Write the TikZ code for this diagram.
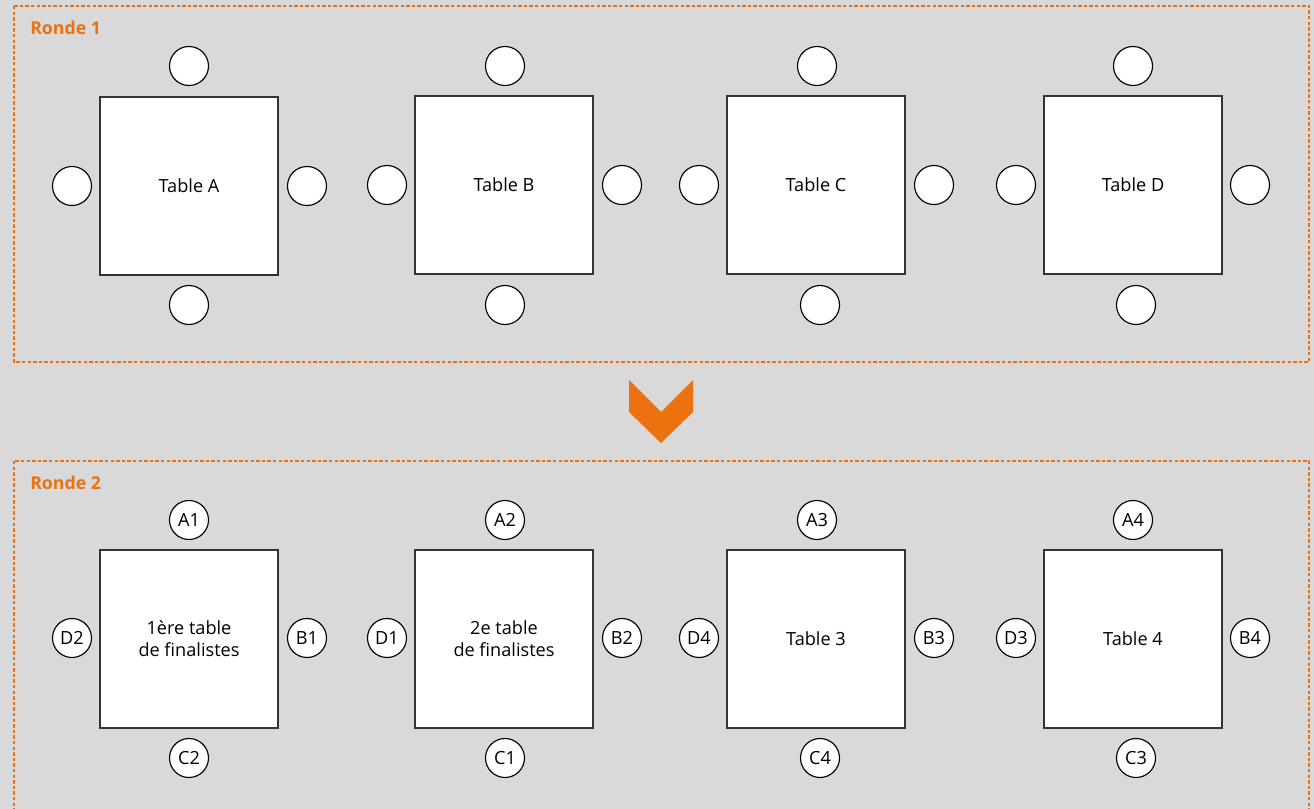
\documentclass[tikz,border=0pt]{standalone}
\usepackage{fontspec}
\setmainfont{Open Sans}
\definecolor{bg}{HTML}{D9D9D9}
\definecolor{org}{HTML}{EC7210}
\definecolor{edge}{HTML}{333333}
\tikzset{
  tablebox/.style={draw=edge, line width=0.85pt, fill=white, minimum width=178*0.75pt, minimum height=178*0.75pt, inner sep=0pt, align=center, font=\fontsize{13.6}{16.5}\selectfont},
  seat/.style={circle, draw=black, line width=0.85pt, fill=white, minimum size=39*0.75pt, inner sep=0pt, font=\fontsize{13.6}{16.5}\selectfont},
  roundframe/.style={draw=org, line width=1.2pt, dash pattern=on 2.6pt off 1.6pt},
  roundtitle/.style={text=org, font=\bfseries\fontsize{13.3}{16}\selectfont, anchor=base west, inner sep=0pt}
}
\begin{document}
\begin{tikzpicture}[x=0.75pt, y=-0.75pt]
\fill[bg] (0,0) rectangle (1314,809);
\useasboundingbox (0,0) rectangle (1314,809);
\begin{scope}
\clip (0,0) rectangle (1314,809);
% frames
\draw[roundframe] (14,6) rectangle (1309,362);
\draw[roundframe] (14,461) rectangle (1309,840);
\end{scope}
\node[roundtitle] (r1) at (30,35) {Ronde 1};
\node[roundtitle] (r2) at (30,489) {Ronde 2};
% chevron
\fill[org] (629,380) -- (661,412) -- (693,380) -- (693,412) -- (661,443) -- (629,412) -- cycle;
% round 1 tables
\node[tablebox] (tA) at (189,186) {Table A};
\node[tablebox] (tB) at (504,185) {Table B};
\node[tablebox] (tC) at (816,185) {Table C};
\node[tablebox] (tD) at (1133,185) {Table D};
% round 1 seats
\node[seat] (sAt) at (189,66) {};
\node[seat] (sAl) at (72,186) {};
\node[seat] (sAr) at (307,186) {};
\node[seat] (sAb) at (189,305) {};
\node[seat] (sBt) at (505,66) {};
\node[seat] (sBl) at (387,185) {};
\node[seat] (sBr) at (622,185) {};
\node[seat] (sBb) at (505,305) {};
\node[seat] (sCt) at (817,66) {};
\node[seat] (sCl) at (699,185) {};
\node[seat] (sCr) at (934,185) {};
\node[seat] (sCb) at (820,305) {};
\node[seat] (sDt) at (1133,66) {};
\node[seat] (sDl) at (1016,185) {};
\node[seat] (sDr) at (1250,185) {};
\node[seat] (sDb) at (1136,305) {};
% round 2 tables
\node[tablebox] (t1) at (189,639) {1ère table\\de finalistes};
\node[tablebox] (t2) at (504,639) {2e table\\de finalistes};
\node[tablebox] (t3) at (816,639) {Table 3};
\node[tablebox] (t4) at (1133,639) {Table 4};
% round 2 seats
\node[seat] (a1) at (189,520) {A1};
\node[seat] (d2) at (72,638) {D2};
\node[seat] (b1) at (307,638) {B1};
\node[seat] (c2) at (189,758) {C2};
\node[seat] (a2) at (505,520) {A2};
\node[seat] (d1) at (387,638) {D1};
\node[seat] (b2) at (622,638) {B2};
\node[seat] (c1) at (505,758) {C1};
\node[seat] (a3) at (817,520) {A3};
\node[seat] (d4) at (699,638) {D4};
\node[seat] (b3) at (934,638) {B3};
\node[seat] (c4) at (820,758) {C4};
\node[seat] (a4) at (1133,520) {A4};
\node[seat] (d3) at (1016,638) {D3};
\node[seat] (b4) at (1250,638) {B4};
\node[seat] (c3) at (1136,758) {C3};
\end{tikzpicture}
\end{document}
